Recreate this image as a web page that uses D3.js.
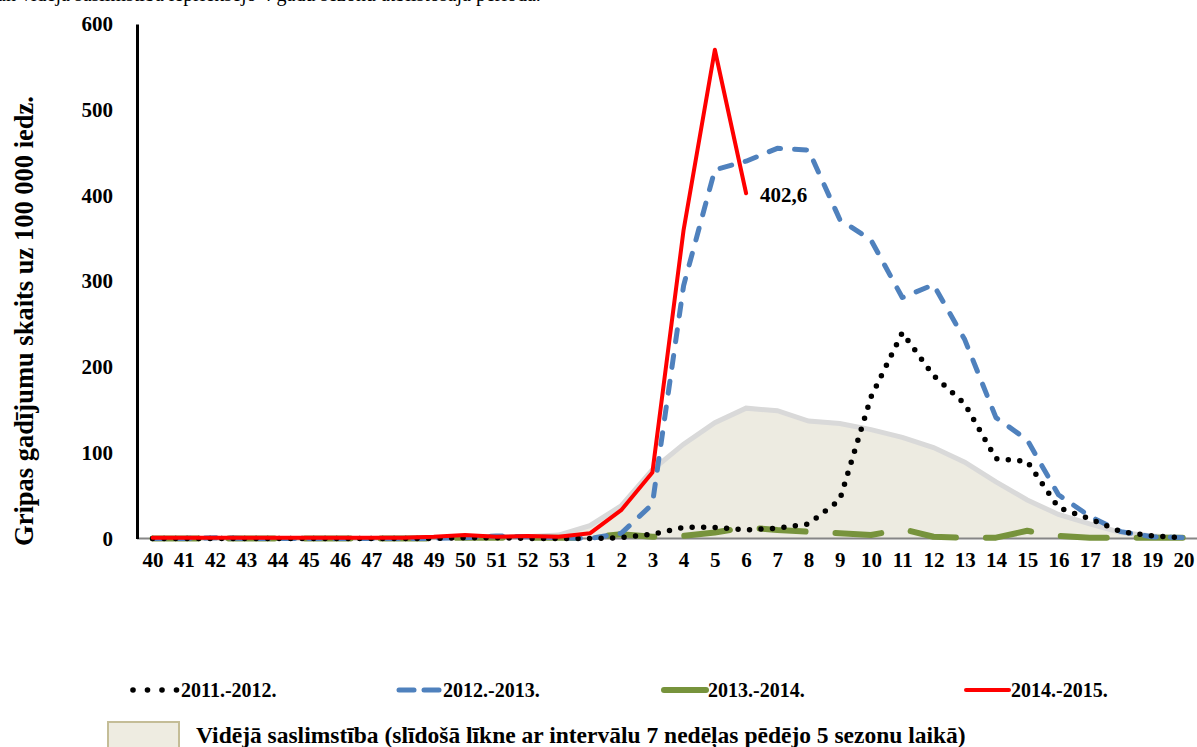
<!DOCTYPE html>
<meta charset="utf-8">

<!-- Load d3.js -->
<script src="https://d3js.org/d3.v7.min.js"></script>
<style>
  body { margin: 0; background: #fff; }
  svg text { font-family: "Liberation Serif", "Times New Roman", "DejaVu Serif", serif !important; }
</style>

<!-- Create a div where the graph will take place -->
<div id="chart"></div>

<script>

// weeks of the flu season (x axis)
var weeks = ["40","41","42","43","44","45","46","47","48","49","50","51","52","53",
             "1","2","3","4","5","6","7","8","9","10","11","12","13","14","15","16","17","18","19","20"];

// average incidence (moving curve, last 5 seasons)
var avg   = [0,0,0,0,0,0,0,0,1,1,2,2,2,4, 15,38,80,110,135,152,149,137,134,127,118,106,89,66,45,28,17,7,3,1];
var s2011 = [0,0,0,0,0,0,0,0,0,0,1,1,0,0, 0,1,5,13,13,10,12,17,45,165,240,190,157,93,90,36,23,8,3,1];
var s2012 = [0,0,1,0,0,0,0,0,0,0,1,3,2,1, 0,6,40,295,430,440,455,453,372,348,281,296,232,141,115,51,26,8,2,1];
var s2013 = [0,0,0,0,0,0,0,0,0,0,1,1,1,1, 1,5,2,3,7,13,10,8,6,4,11,2,1,1,9,3,1,1,1,1];
var s2014 = [1,1,1,1,1,1,1,1,1,2,4,2,3,2, 6,33,77,360,570,402.6];

var yTicks = [0,100,200,300,400,500,600];

var serif = "'Liberation Serif', 'Times New Roman', serif";
var width = 1197, height = 747;

var svg = d3.select("#chart")
  .append("svg")
    .attr("width", width)
    .attr("height", height)
    .attr("font-family", serif);

// cut-off caption line from the page above
svg.append("text")
    .attr("x", -4).attr("y", 1)
    .attr("font-family", serif)
    .style("font-size", "20px")
    .text("un vidējā saslimstība iepriekšējo 4 gadu sezonu atbilstošajā periodā.");

// scales
var x = d3.scalePoint()
    .domain(weeks)
    .range([137, 1199])
    .padding(0.5);

var y = d3.scaleLinear()
    .domain([0, 600])
    .range([538.5, 24]);

// area of the average
var area = d3.area()
    .x(function(d, i) { return x(weeks[i]); })
    .y0(y(0))
    .y1(function(d) { return y(d); });

svg.append("path")
    .datum(avg)
    .attr("d", area)
    .style("fill", "#EDEBE1");

svg.append("path")
    .datum(avg)
    .attr("d", d3.line().x(function(d, i) { return x(weeks[i]); }).y(function(d) { return y(d); }))
    .style("fill", "none")
    .style("stroke", "#D9D9D9")
    .style("stroke-width", 5);

// X axis line (grey)
svg.append("line")
    .attr("x1", 137).attr("x2", 1197)
    .attr("y1", y(0)).attr("y2", y(0))
    .style("stroke", "#868686")
    .style("stroke-width", 2);

// line generator
var line = d3.line()
    .defined(function(d) { return d != null; })
    .x(function(d, i) { return x(weeks[i]); })
    .y(function(d) { return y(d); });

function drawLine(data, color, w, dash, cap) {
  svg.append("path")
      .datum(data)
      .attr("d", line)
      .style("fill", "none")
      .style("stroke", color)
      .style("stroke-width", w)
      .style("stroke-linejoin", "round")
      .style("stroke-linecap", cap || "butt")
      .style("stroke-dasharray", dash || null);
}

drawLine(s2013, "#77933C", 6, "46,30", "round");
drawLine(s2012, "#4F81BD", 5, "12,14", "round");
drawLine(s2011, "#000000", 5.5, "0,11.5", "round");
drawLine(s2014, "#FF0000", 4, null, "round");

// label of last value
svg.append("text")
    .attr("x", x("6") + 14)
    .attr("y", y(402.6) + 9)
    .attr("font-family", serif)
    .style("font-size", "21px")
    .style("font-weight", "bold")
    .text("402,6");

// Y axis
var yAxis = svg.append("g")
    .attr("transform", "translate(137,0)")
    .call(d3.axisLeft(y).tickValues(yTicks).tickSize(0).tickPadding(24));
yAxis.attr("font-family", serif);
yAxis.select(".domain").style("stroke", "#000").style("stroke-width", 3);
yAxis.selectAll("text")
    .style("font-size", "21px")
    .style("font-weight", "bold")
    .style("fill", "#000");

// X axis labels
var xAxis = svg.append("g")
    .attr("transform", "translate(0," + y(0) + ")")
    .call(d3.axisBottom(x).tickSize(0).tickPadding(14));
xAxis.attr("font-family", serif);
xAxis.select(".domain").remove();
xAxis.selectAll("text")
    .style("font-size", "21px")
    .style("font-weight", "bold")
    .style("fill", "#000");

// Y axis title
svg.append("text")
    .attr("transform", "translate(33,321) rotate(-90)")
    .attr("text-anchor", "middle")
    .attr("font-family", serif)
    .style("font-size", "26.5px")
    .style("font-weight", "bold")
    .text("Gripas gadījumu skaits uz 100 000 iedz.");

// Handmade legend
var ly = 690;
[0,1,2,3].forEach(function(k) {
  svg.append("circle").attr("cx", 133 + k * 14.5).attr("cy", ly).attr("r", 2.8).style("fill", "#000");
});
svg.append("line").attr("x1", 399).attr("x2", 414).attr("y1", ly).attr("y2", ly)
    .style("stroke", "#4F81BD").style("stroke-width", 5).style("stroke-linecap", "round");
svg.append("line").attr("x1", 424).attr("x2", 439).attr("y1", ly).attr("y2", ly)
    .style("stroke", "#4F81BD").style("stroke-width", 5).style("stroke-linecap", "round");
svg.append("line").attr("x1", 664).attr("x2", 706).attr("y1", ly).attr("y2", ly)
    .style("stroke", "#77933C").style("stroke-width", 6).style("stroke-linecap", "round");
svg.append("line").attr("x1", 966).attr("x2", 1009).attr("y1", ly).attr("y2", ly)
    .style("stroke", "#FF0000").style("stroke-width", 4).style("stroke-linecap", "round");

var legendNames = ["2011.-2012.", "2012.-2013.", "2013.-2014.", "2014.-2015."];
var legendX = [181, 443, 708, 1011];
legendNames.forEach(function(n, i) {
  svg.append("text").attr("x", legendX[i]).attr("y", ly + 7)
      .attr("font-family", serif)
      .style("font-size", "20px").style("font-weight", "bold").text(n);
});

svg.append("rect")
    .attr("x", 108).attr("y", 722).attr("width", 71).attr("height", 32)
    .style("fill", "#EEECE1")
    .style("stroke", "#C4BD97")
    .style("stroke-width", 2);
svg.append("text").attr("x", 196).attr("y", 743)
    .attr("font-family", serif)
    .style("font-size", "23.5px").style("font-weight", "bold")
    .text("Vidējā saslimstība (slīdošā līkne ar intervālu 7 nedēļas pēdējo 5 sezonu laikā)");

</script>
